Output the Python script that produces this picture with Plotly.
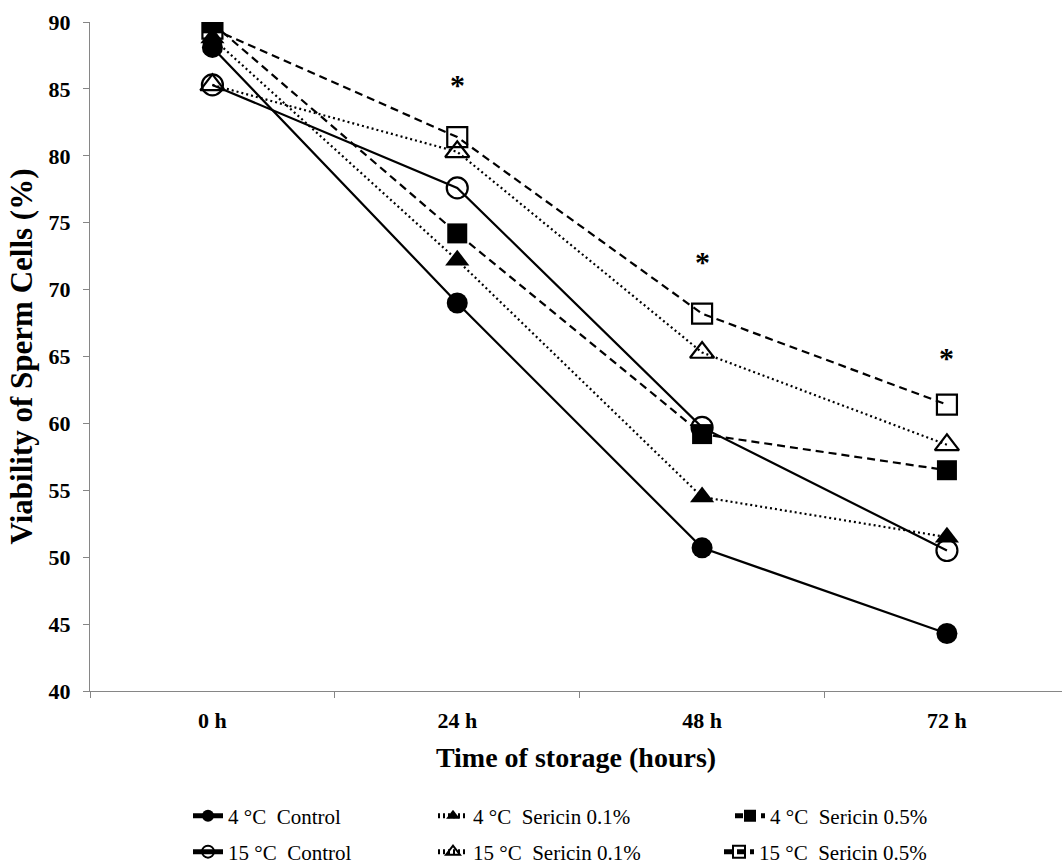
import plotly.graph_objects as go

categories = ["0 h", "24 h", "48 h", "72 h"]
series_names = [
    "4\u00a0°C\u00a0\u00a0Control",
    "15\u00a0°C\u00a0\u00a0Control",
    "4\u00a0°C\u00a0\u00a0Sericin\u00a00.1%",
    "15\u00a0°C\u00a0\u00a0Sericin\u00a00.1%",
    "4\u00a0°C\u00a0\u00a0Sericin\u00a00.5%",
    "15\u00a0°C\u00a0\u00a0Sericin\u00a00.5%",
]
ctrl_4 = [88.1, 69.0, 50.7, 44.3]
ctrl_15 = [85.3, 77.6, 59.7, 50.5]
ser01_4 = [88.8, 72.2, 54.5, 51.5]
ser01_15 = [85.3, 80.3, 65.3, 58.4]
ser05_4 = [89.9, 74.2, 59.2, 56.5]
ser05_15 = [89.5, 81.4, 68.2, 61.4]
star_cats = ["24 h", "48 h", "72 h"]
star_vals = [85.3, 72.1, 64.9]

values = [ctrl_4, ctrl_15, ser01_4, ser01_15, ser05_4, ser05_15]
symbols = ["circle", "circle-open", "triangle-up", "triangle-up-open", "square", "square-open"]
dashes = ["solid", "solid", "2px,3px", "2px,3px", "8px,5px", "8px,5px"]
legend_ids = ["legend", "legend4", "legend2", "legend5", "legend3", "legend6"]

fig = go.Figure()
for name, vals, sym, dash, lid in zip(series_names, values, symbols, dashes, legend_ids):
    open_m = "open" in sym
    fig.add_trace(go.Scatter(
        x=categories, y=vals, name=name, mode="lines+markers",
        line=dict(color="black", width=2.2, dash=dash),
        marker=dict(symbol=sym, size=20 if "square" in sym else 21, color="black",
                    line=dict(color="black", width=2.2 if open_m else 0)),
        legend=lid,
    ))

for c, v in zip(star_cats, star_vals):
    fig.add_annotation(x=c, y=v, text="<b>*</b>", showarrow=False,
                       font=dict(family="Liberation Serif", size=30, color="black"),
                       yanchor="middle")

L, W = 90, 1062
def px(xpix):
    return (xpix - L) / (W - L)
def py(ypix):
    return (691 - ypix) / (691 - 22)

font_leg = dict(family="Liberation Serif", size=21, color="black")
leg_pos = {
    "legend": (188, 816), "legend2": (433, 816), "legend3": (730, 816),
    "legend4": (188, 852), "legend5": (433, 852), "legend6": (719, 852),
}
legend_layout = {}
for lid, (lx, ly) in leg_pos.items():
    legend_layout[lid] = dict(x=px(lx), y=py(ly), xanchor="left", yanchor="middle",
                              font=font_leg, bgcolor="rgba(0,0,0,0)",
                              itemsizing="constant", orientation="h")

fig.update_layout(
    width=1062, height=865,
    margin=dict(l=L, r=0, t=22, b=174, autoexpand=False),
    paper_bgcolor="white", plot_bgcolor="white",
    showlegend=True,
    **legend_layout,
)
fig.update_xaxes(
    type="category", range=[-0.5, 3.47],
    showline=True, linecolor="#868686", linewidth=1.3,
    ticks="outside", tickson="boundaries", ticklen=6, tickcolor="#868686",
    showgrid=False, zeroline=False,
    tickfont=dict(family="Liberation Serif", size=22, color="black", weight="bold"),
    ticklabelstandoff=9,
    title=dict(text="<b>Time of storage (hours)</b>", standoff=15,
               font=dict(family="Liberation Serif", size=28, color="black")),
)
fig.update_yaxes(
    range=[40, 90], tickvals=[40, 45, 50, 55, 60, 65, 70, 75, 80, 85, 90],
    showline=True, linecolor="#868686", linewidth=1.3,
    ticks="outside", ticklen=6, tickcolor="#868686",
    showgrid=False, zeroline=False,
    tickfont=dict(family="Liberation Serif", size=22, color="black", weight="bold"),
    ticklabelstandoff=8,
    title=dict(text="<b>Viability of Sperm Cells (%)</b>", standoff=6,
               font=dict(family="Liberation Serif", size=31, color="black")),
)
fig.write_html("out.html")
